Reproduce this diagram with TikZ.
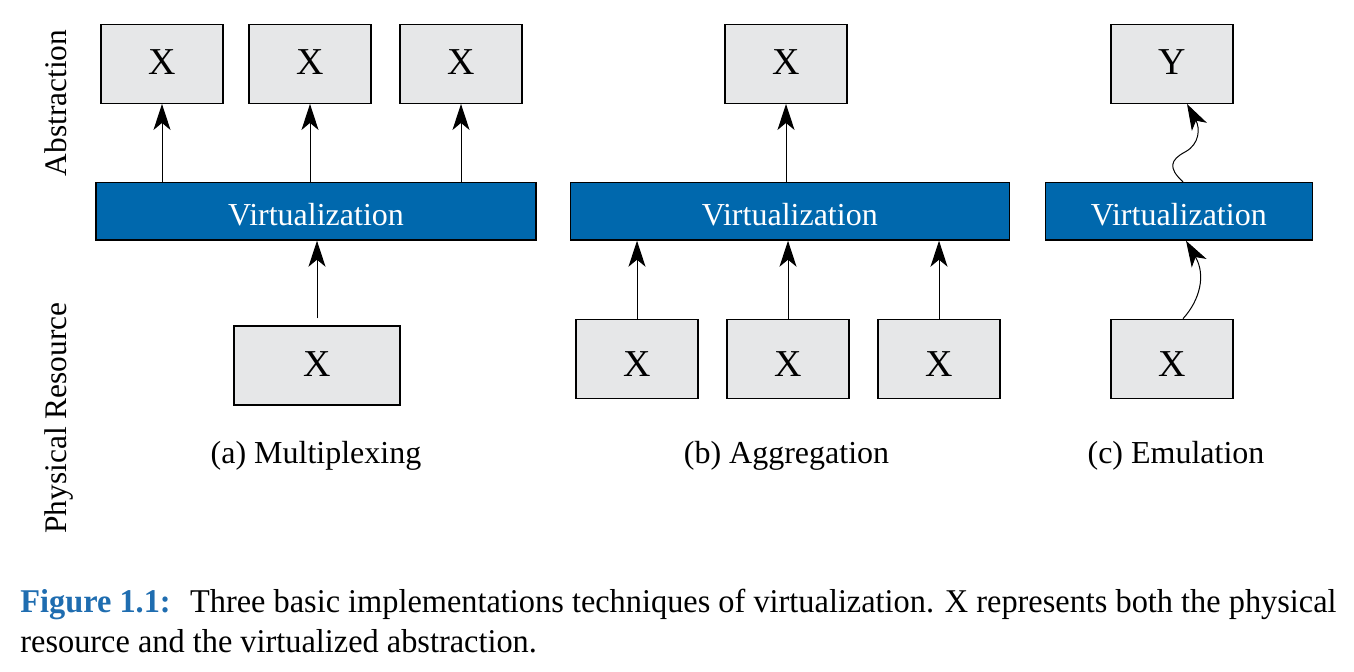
\documentclass[tikz,border=0pt]{standalone}
\usepackage{fontspec}
\setmainfont{Liberation Serif}
\usetikzlibrary{arrows.meta}
\definecolor{boxgray}{HTML}{E6E7E8}
\definecolor{virtblue}{HTML}{0068AD}
\definecolor{capblue}{HTML}{1F6DB0}
\newlength\capw
\newlength\capww
\newlength\captw
\newcommand\capfont{\fontsize{16.6}{20}\selectfont}
\newcommand\capone{\textcolor{capblue}{\textbf{Figure 1.1:}}\hspace{0.6em}Three basic implementations techniques of virtualization. X represents both the physical}
\newcommand\captwo{resource and the virtualized abstraction.}
\begin{document}
\settowidth\capw{\capfont\capone}%
\settowidth\capww{\capfont\captwo}%
\setlength\captw{\dimexpr 658pt*\capww/\capw\relax}%
\begin{tikzpicture}[x=0.5pt,y=-0.5pt,
 res/.style={draw=black,line width=0.65pt,fill=boxgray,minimum width=61pt,minimum height=39.5pt,inner sep=0pt,font=\fontsize{19}{22}\selectfont},
 low/.style={text height=18pt,text depth=0pt},
 up/.style={text height=12.6pt,text depth=2.4pt},
 virt/.style={draw=black,line width=0.65pt,fill=virtblue,text=white,minimum height=28.75pt,inner sep=0pt,text height=14pt,text depth=0pt,font=\fontsize{16}{18}\selectfont},
 arr/.style={-{Stealth[length=13pt,width=8.5pt,inset=3.5pt]},line width=0.5pt},
 lbl/.style={anchor=base,font=\fontsize{16}{19}\selectfont,inner sep=0pt},
 side/.style={rotate=90,anchor=base,font=\fontsize{15.7}{19}\selectfont,inner sep=0pt},
 capline/.style={anchor=base west,inner sep=0pt}]
\useasboundingbox (0,0) rectangle (1354,671);

% side labels
\node[side] (abs) at (66,103) {Abstraction};
\node[side] (phy) at (66,418) {Physical Resource};

% (a) Multiplexing
\node[res,up] (a1) at (162,63.8) {X};
\node[res,up] (a2) at (310,63.8) {X};
\node[res,up] (a3) at (461,63.8) {X};
\node[virt,minimum width=220pt] (va) at (316,211.3) {Virtualization};
\node[res,minimum width=83pt,text height=12.6pt,text depth=1.4pt] (a0) at (317,365.5) {X};
\draw[arr] (va.north -| a1) -- (a1.south);
\draw[arr] (va.north -| a2) -- (a2.south);
\draw[arr] (va.north -| a3) -- (a3.south);
\draw[arr] ([yshift=3.5pt]a0.north) -- (va.south -| a0);
\node[lbl] (la) at (316,463) {(a) Multiplexing};

% (b) Aggregation
\node[res,up] (b0) at (786,63.8) {X};
\node[virt,minimum width=219.5pt] (vb) at (789.8,211.3) {Virtualization};
\node[res,low] (b1) at (637,358.8) {X};
\node[res,low] (b2) at (788,358.8) {X};
\node[res,low] (b3) at (939,358.8) {X};
\draw[arr] (vb.north -| b0) -- (b0.south);
\draw[arr] (b1.north) -- (vb.south -| b1);
\draw[arr] (b2.north) -- (vb.south -| b2);
\draw[arr] (b3.north) -- (vb.south -| b3);
\node[lbl] (lb) at (786.5,463) {(b) Aggregation};

% (c) Emulation
\node[res,up] (cy) at (1172,63.8) {Y};
\node[virt,minimum width=133.5pt] (vc) at (1178.8,211.3) {Virtualization};
\node[res,low] (cx) at (1172,358.8) {X};
\coordinate (cl) at (1183,0);
\draw[arr] (cx.north -| cl) .. controls (1200,300) and (1206,275) .. (vc.south -| 1186,0);
\draw[arr] (vc.north -| cl) .. controls (1168,168) and (1170,160) .. (1185,152)
  .. controls (1200,144) and (1200,128) .. (cy.south -| 1187,0);
\node[lbl] (lc) at (1176,463) {(c) Emulation};

% caption
\node[capline] (cap1) at (20,612) {\resizebox{658pt}{\height}{\capfont\capone}};
\node[capline] (cap2) at (20,652) {\resizebox{\captw}{\height}{\capfont\captwo}};
\end{tikzpicture}
\end{document}
